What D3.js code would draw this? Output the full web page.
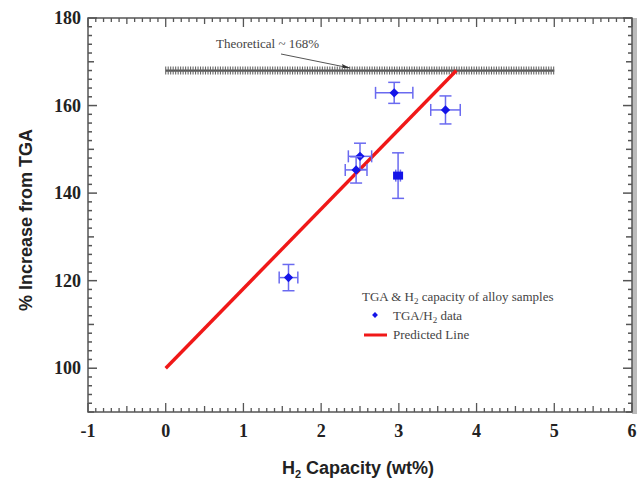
<!DOCTYPE html>
<html><head><meta charset="utf-8">
<script src="https://cdn.jsdelivr.net/npm/d3@7"></script>
<style>body{margin:0;background:#fff}</style>
</head><body>
<svg id="c" width="641" height="481"></svg>
<script>
// data
const capX = [1.58, 2.50, 2.45, 2.99, 2.94, 3.60];
const incY = [120.7, 148.4, 145.3, 144.0, 162.9, 159.0];
const errX = [0.12, 0.15, 0.14, 0.03, 0.24, 0.19];
const errY = [3.0, 3.0, 3.0, 5.2, 2.4, 3.2];
const predX = [0, 3.74];
const predY = [100, 168];
const theoX = [0, 5];
const theoY = 168;
const xTicks = [-1, 0, 1, 2, 3, 4, 5, 6];
const yTicks = [100, 120, 140, 160, 180];

const svg = d3.select("#c");
const L = 88, R = 632, T = 18, B = 412;
const x = d3.scaleLinear().domain([-1, 6]).range([L, R]);
const y = d3.scaleLinear().domain([90, 180]).range([B, T]);

// gray shadow on right
svg.append("rect").attr("x", R).attr("y", T).attr("width", 5).attr("height", B - T + 2).attr("fill", "#bbb");

// frame
svg.append("rect").attr("x", L).attr("y", T).attr("width", R - L).attr("height", B - T)
  .attr("fill", "none").attr("stroke", "#555").attr("stroke-width", 1.5);

const tc = "#555";
const xMinor = d3.range(-10, 61).map(i => i / 10);
xMinor.forEach(v => {
  const r = Math.round(v * 10);
  const len = r % 10 === 0 ? 9 : (r % 5 === 0 ? 6 : 4);
  svg.append("line").attr("x1", x(v)).attr("x2", x(v)).attr("y1", B).attr("y2", B - len).attr("stroke", tc).attr("stroke-width", 1.3);
  svg.append("line").attr("x1", x(v)).attr("x2", x(v)).attr("y1", T).attr("y2", T + len).attr("stroke", tc).attr("stroke-width", 1.3);
});
const yMinor = d3.range(90, 181, 2);
yMinor.forEach(v => {
  const len = v % 20 === 0 ? 9 : (v % 10 === 0 ? 6 : 4);
  svg.append("line").attr("x1", L).attr("x2", L + len).attr("y1", y(v)).attr("y2", y(v)).attr("stroke", tc).attr("stroke-width", 1.5);
  svg.append("line").attr("x1", R).attr("x2", R - len).attr("y1", y(v)).attr("y2", y(v)).attr("stroke", tc).attr("stroke-width", 1.5);
});

// tick labels
svg.append("g").selectAll("text").data(xTicks).join("text")
  .attr("x", d => x(d)).attr("y", 437).attr("text-anchor", "middle")
  .attr("font-family", "Liberation Serif, Times New Roman, serif").attr("font-weight", "bold")
  .attr("font-size", 18).attr("fill", "#222").text(d => d);
svg.append("g").selectAll("text").data(yTicks).join("text")
  .attr("x", 81).attr("y", d => y(d) + 6).attr("text-anchor", "end")
  .attr("font-family", "Liberation Serif, Times New Roman, serif").attr("font-weight", "bold")
  .attr("font-size", 18).attr("fill", "#222").text(d => d);

// axis titles
const xt = svg.append("text").attr("x", 358).attr("y", 474).attr("text-anchor", "middle")
  .attr("font-family", "Liberation Sans, Arial, sans-serif").attr("font-weight", "bold")
  .attr("font-size", 18).attr("fill", "#222");
xt.append("tspan").text("H");
xt.append("tspan").attr("font-size", 11).attr("dy", 4).text("2");
xt.append("tspan").attr("dy", -4).text(" Capacity (wt%)");
svg.append("text").attr("transform", "translate(32,220) rotate(-90)").attr("text-anchor", "middle")
  .attr("font-family", "Liberation Sans, Arial, sans-serif").attr("font-weight", "bold")
  .attr("font-size", 18).attr("fill", "#222").text("% Increase from TGA");

// theoretical hatched line
svg.append("line").attr("x1", x(theoX[0])).attr("x2", x(theoX[1])).attr("y1", y(theoY)).attr("y2", y(theoY))
  .attr("stroke", "#555").attr("stroke-width", 2.2);
d3.range(0, 501, 3.2).map(i => i / 100).forEach(v => {
  if (v > theoX[1]) return;
  svg.append("line").attr("x1", x(v)).attr("x2", x(v)).attr("y1", y(theoY) - 4).attr("y2", y(theoY) + 4)
    .attr("stroke", "#666").attr("stroke-width", 1.1);
});
// annotation
svg.append("text").attr("x", 216).attr("y", 48)
  .attr("font-family", "Liberation Serif, Times New Roman, serif").attr("font-size", 13)
  .attr("fill", "#444").text("Theoretical ~ 168%");
svg.append("line").attr("x1", 281).attr("y1", 54).attr("x2", 350).attr("y2", 68)
  .attr("stroke", "#555").attr("stroke-width", 1);
svg.append("path").attr("d", "M350,68 l-8,-4 l1,4 z").attr("fill", "#333");

// predicted line
const line = d3.line().x(d => x(d[0])).y(d => y(d[1]));
svg.append("path").datum(d3.zip(predX, predY)).attr("d", line)
  .attr("stroke", "#f01818").attr("stroke-width", 3.4).attr("fill", "none");

// data with error bars
const blue = "#1414e8";
const eb = "#6a6af0";
capX.forEach((cx, i) => {
  const px = x(cx), py = y(incY[i]);
  const g = svg.append("g");
  const y1 = y(incY[i] + errY[i]), y2 = y(incY[i] - errY[i]);
  g.append("line").attr("x1", px).attr("x2", px).attr("y1", y1).attr("y2", y2).attr("stroke", eb).attr("stroke-width", 1.5);
  [y1, y2].forEach(yy => g.append("line").attr("x1", px - 6).attr("x2", px + 6).attr("y1", yy).attr("y2", yy).attr("stroke", eb).attr("stroke-width", 1.5));
  const x1 = x(cx - errX[i]), x2 = x(cx + errX[i]);
  g.append("line").attr("x1", x1).attr("x2", x2).attr("y1", py).attr("y2", py).attr("stroke", eb).attr("stroke-width", 1.5);
  [x1, x2].forEach(xx => g.append("line").attr("x1", xx).attr("x2", xx).attr("y1", py - 6).attr("y2", py + 6).attr("stroke", eb).attr("stroke-width", 1.5));
  if (i === 3) {
    g.append("rect").attr("x", px - 5).attr("y", py - 4).attr("width", 10).attr("height", 8).attr("fill", blue);
  } else {
    g.append("path").attr("d", d3.symbol(d3.symbolDiamond2, 55)()).attr("transform", `translate(${px},${py})`).attr("fill", blue);
  }
});

// legend
const lf = "Liberation Serif, Times New Roman, serif";
const t1 = svg.append("text").attr("x", 362).attr("y", 301).attr("font-family", lf).attr("font-size", 13).attr("fill", "#444");
t1.append("tspan").text("TGA & H");
t1.append("tspan").attr("font-size", 9).attr("dy", 3).text("2");
t1.append("tspan").attr("dy", -3).text(" capacity of alloy samples");
svg.append("path").attr("d", d3.symbol(d3.symbolDiamond2, 22)()).attr("transform", "translate(375,315)").attr("fill", blue);
const t2 = svg.append("text").attr("x", 393).attr("y", 320).attr("font-family", lf).attr("font-size", 13).attr("fill", "#444");
t2.append("tspan").text("TGA/H");
t2.append("tspan").attr("font-size", 9).attr("dy", 3).text("2");
t2.append("tspan").attr("dy", -3).text(" data");
svg.append("line").attr("x1", 364).attr("x2", 387).attr("y1", 335).attr("y2", 335).attr("stroke", "#f01818").attr("stroke-width", 3);
svg.append("text").attr("x", 393).attr("y", 339).attr("font-family", lf).attr("font-size", 13).attr("fill", "#444").text("Predicted Line");
</script>
</body></html>
